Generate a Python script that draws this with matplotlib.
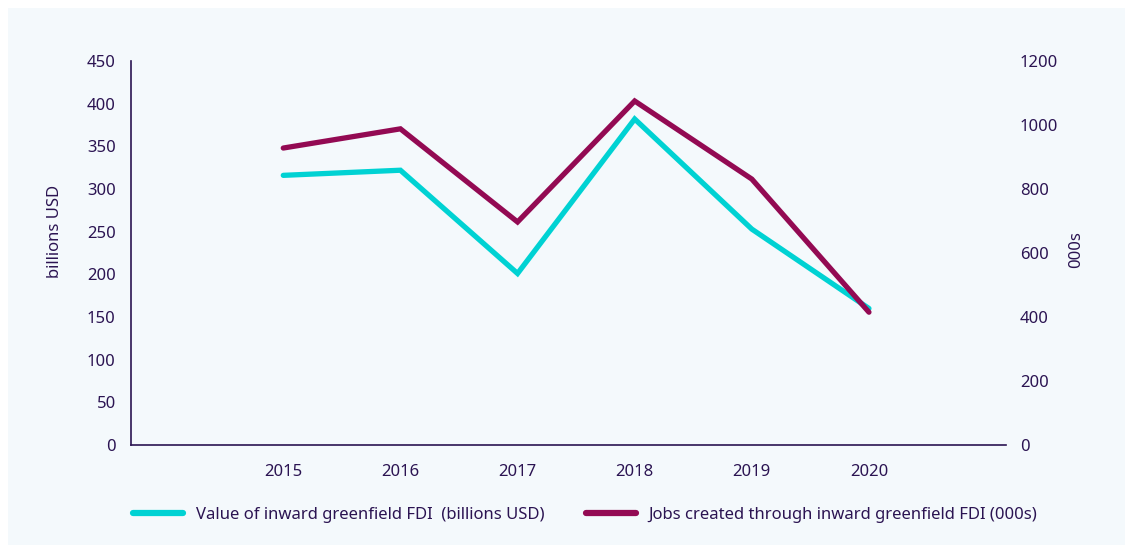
import matplotlib
matplotlib.use('Agg')
import matplotlib.pyplot as plt
from matplotlib.patches import Rectangle
from matplotlib.lines import Line2D

plt.rcParams['font.family'] = ['Noto Sans', 'DejaVu Sans']

years = [2015, 2016, 2017, 2018, 2019, 2020]
fdi_value = [316, 322, 201, 382, 253, 160]
jobs = [928, 988, 697, 1075, 831, 415]

TEXT = '#2b1452'
TEAL = '#00d2d3'
MAROON = '#930a53'

fig = plt.figure(figsize=(11.33, 5.53), dpi=100, facecolor='white')
fig.patches.append(Rectangle((8 / 1133, 8 / 553), 1117 / 1133, 537 / 553,
                             transform=fig.transFigure, facecolor='#f4f9fc',
                             edgecolor='none', zorder=-10))

ax = fig.add_axes([131 / 1133, 1 - 445 / 553, (1006 - 131) / 1133, (445 - 61) / 553])
ax.set_facecolor('none')
ax2 = ax.twinx()

ax.plot(years, fdi_value, color=TEAL, lw=3.8, solid_capstyle='round', solid_joinstyle='miter')
ax2.plot(years, jobs, color=MAROON, lw=3.8, solid_capstyle='round', solid_joinstyle='miter')

ax.set_xlim(2013.7, 2021.17)
ax.set_ylim(0, 450)
ax2.set_ylim(0, 1200)
ax.set_xticks(years)
ax.set_yticks(range(0, 451, 50))
ax2.set_yticks(range(0, 1201, 200))

for a in (ax, ax2):
    for s in ('top', 'right'):
        a.spines[s].set_visible(False)
    a.tick_params(length=0, labelsize=12, colors=TEXT)
ax2.spines['left'].set_visible(False)
ax2.spines['bottom'].set_visible(False)
ax.spines['left'].set_color(TEXT)
ax.spines['bottom'].set_color(TEXT)
ax.spines['left'].set_linewidth(1.2)
ax.spines['bottom'].set_linewidth(1.2)
ax.tick_params(axis='x', pad=14)
ax.tick_params(axis='y', pad=11)
ax2.tick_params(axis='y', pad=10)

ax.set_ylabel('billions USD', fontsize=12, color=TEXT)
ax.yaxis.set_label_coords(-0.078, 0.555)
ax2.set_ylabel('000s', fontsize=12, color=TEXT, rotation=90)
ax2.yaxis.set_label_coords(1.071, 0.508)

handles = [Line2D([], [], color=TEAL, lw=4.5, solid_capstyle='round'),
           Line2D([], [], color=MAROON, lw=4.5, solid_capstyle='round')]
labels = ['Value of inward greenfield FDI  (billions USD)',
          'Jobs created through inward greenfield FDI (000s)']
fig.legend(handles, labels, loc='center left', bbox_to_anchor=(118 / 1133, 1 - 515 / 553),
           ncol=2, frameon=False, fontsize=12, labelcolor=TEXT,
           handlelength=3.0, handletextpad=0.75, columnspacing=2.5)

fig.savefig('out.png', dpi=100, facecolor='white')
